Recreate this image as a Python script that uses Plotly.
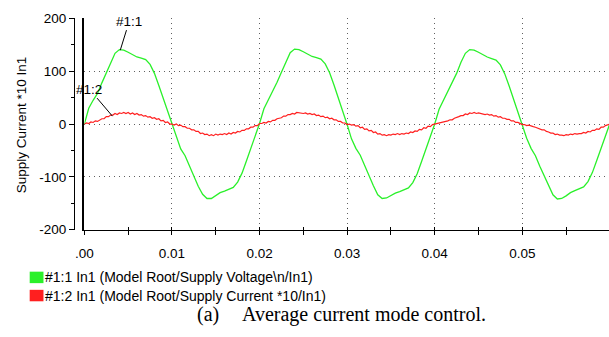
import numpy as np
import plotly.graph_objects as go

# ---------------- data ----------------
# Supply voltage (green), sampled every 0.5 ms from 0 to 0.06 s
volt_step = 0.0005
voltage = [
    0, 30, 45, 58, 78, 97, 117, 134, 141, 140, 136, 131, 127, 125, 122, 113, 96, 73, 49, 25,
    0, -27, -47, -60, -80, -99, -118, -133, -141, -141, -136, -130, -127, -124, -120, -110, -93, -70, -47, -23,
    1, 29, 46, 60, 79, 98, 118, 135, 142, 141, 137, 132, 128, 126, 123, 114, 97, 74, 50, 26,
    -1, -28, -46, -59, -79, -98, -117, -134, -141, -140, -135, -131, -128, -125, -121, -111, -94, -71, -48, -24,
    0, 28, 45, 59, 78, 96, 117, 134, 141, 140, 136, 131, 127, 124, 121, 112, 95, 72, 48, 24,
    0, -27, -46, -60, -80, -99, -118, -134, -142, -141, -136, -130, -126, -123, -119, -109, -92, -69, -46, -22,
    1,
]
# Supply current *10 (red), sampled every 0.25 ms from 0 to 0.06 s
curr_step = 0.00025
current = [
    0, 2, 1, 4, 3, 6, 5, 8, 10, 10, 14, 14, 17, 17, 20, 18, 21, 20, 22, 20,
    22, 19, 21, 18, 20, 17, 18, 15, 16, 13, 14, 11, 12, 9, 10, 6, 7, 3, 4, 0,
    0, -2, 0, -3, -2, -5, -5, -8, -8, -11, -11, -14, -14, -18, -17, -20, -19, -22, -20, -22,
    -19, -21, -19, -20, -18, -20, -17, -19, -16, -17, -14, -15, -12, -12, -9, -9, -6, -6, -3, -3,
    1, 1, 3, 2, 5, 4, 7, 7, 10, 11, 12, 15, 15, 18, 18, 20, 19, 22, 21, 21,
    20, 21, 19, 20, 18, 19, 16, 17, 14, 15, 12, 13, 10, 11, 8, 8, 5, 5, 2, 2,
    -1, 0, -2, -1, -4, -3, -7, -6, -10, -9, -13, -12, -16, -15, -19, -18, -21, -20, -22, -20,
    -21, -19, -20, -18, -20, -18, -19, -17, -18, -15, -16, -13, -14, -10, -11, -7, -8, -4, -5, -1,
    0, 1, 2, 3, 3, 5, 6, 8, 8, 11, 12, 14, 16, 16, 19, 18, 21, 20, 22, 20,
    21, 20, 20, 18, 19, 17, 18, 15, 16, 13, 14, 11, 11, 9, 9, 6, 6, 3, 3, 1,
    -1, -1, -3, -2, -4, -5, -6, -8, -9, -11, -11, -14, -15, -17, -17, -20, -19, -21, -21, -22,
    -20, -21, -19, -20, -18, -19, -18, -18, -16, -17, -14, -15, -12, -12, -9, -10, -6, -6, -3, -2,
    0,
]
t_volt = np.arange(len(voltage)) * volt_step
t_curr = np.arange(len(current)) * curr_step

x_tickvals = [0.0, 0.01, 0.02, 0.03, 0.04, 0.05]
x_ticktext = [".00", "0.01", "0.02", "0.03", "0.04", "0.05"]
x_minorvals = [0.005, 0.015, 0.025, 0.035, 0.045, 0.055]
y_tickvals = [-200, -100, 0, 100, 200]
y_ticktext = ["-200", "-100", "0", "100", "200"]

legend_labels = [
    "#1:1 In1 (Model Root/Supply Voltage\\n/In1)",
    "#1:2 In1 (Model Root/Supply Current *10/In1)",
]
series_names = ["#1:1", "#1:2"]
y_title = "Supply Current *10 In1"
caption_label = "(a)"
caption_text = "Average current mode control."

GREEN = "#2af02a"
RED = "#ff1f1f"
FONT = "Liberation Sans, Arial, sans-serif"
SERIF = "Liberation Serif, Times New Roman, serif"

W, H = 609, 337
X_RANGE = [0, 0.0599]
Y_RANGE = [-200, 200]
xdom = [76.5 / W, 1.0]
ydom = [(H - 233) / H, (H - 12) / H]

fig = go.Figure()
fig.add_trace(go.Scatter(x=t_volt, y=voltage, mode="lines",
                         line=dict(color=GREEN, width=1.3), showlegend=False))
fig.add_trace(go.Scatter(x=t_curr, y=current, mode="lines",
                         line=dict(color=RED, width=1.2), showlegend=False))
# invisible helpers so the overlay axes are drawn
fig.add_trace(go.Scatter(x=[0.03], y=[0], xaxis="x2", yaxis="y", mode="markers",
                         marker=dict(opacity=0), showlegend=False, hoverinfo="skip"))
fig.add_trace(go.Scatter(x=[0.03], y=[0], xaxis="x", yaxis="y2", mode="markers",
                         marker=dict(opacity=0), showlegend=False, hoverinfo="skip"))

grid_dash = "1px,4px"
grid_col = "#606060"

fig.update_layout(
    width=W, height=H,
    margin=dict(l=0, r=0, t=0, b=0),
    paper_bgcolor="white", plot_bgcolor="white",
    font=dict(family=FONT, size=13, color="black"),
    xaxis=dict(
        domain=xdom, range=X_RANGE, anchor="y",
        showline=True, linecolor="black", linewidth=1.3,
        ticks="outside", ticklen=4, tickwidth=1.2, tickcolor="black",
        tickvals=x_tickvals, ticktext=x_ticktext,
        tickfont=dict(size=13.5), ticklabelstandoff=7,
        minor=dict(tickvals=x_minorvals, ticks="outside", ticklen=4,
                   tickwidth=1.2, tickcolor="black", showgrid=False),
        showgrid=True, gridcolor=grid_col, griddash=grid_dash, gridwidth=1,
        zeroline=False, fixedrange=True,
    ),
    xaxis2=dict(
        domain=xdom, range=X_RANGE, anchor="y", overlaying="x",
        showline=False, ticks="inside", ticklen=3, tickwidth=1.2, tickcolor="black",
        tickvals=x_tickvals, showticklabels=False,
        minor=dict(tickvals=x_minorvals, ticks="inside", ticklen=3,
                   tickwidth=1.2, tickcolor="black", showgrid=False),
        showgrid=False, zeroline=False,
    ),
    yaxis=dict(
        domain=ydom, range=Y_RANGE, anchor="free", position=66 / W,
        showline=True, linecolor="black", linewidth=1.3,
        ticks="outside", ticklen=5, tickwidth=1.2, tickcolor="black",
        tickvals=y_tickvals, ticktext=y_ticktext,
        tickfont=dict(size=13.5),
        minor=dict(dtick=50, ticks="outside", ticklen=3, tickwidth=1.2,
                   tickcolor="black", showgrid=False),
        showgrid=True, gridcolor=grid_col, griddash=grid_dash, gridwidth=1,
        zeroline=False,
    ),
    yaxis2=dict(
        domain=ydom, range=Y_RANGE, anchor="x", overlaying="y", side="left",
        showline=True, linecolor="black", linewidth=1.5,
        ticks="", showticklabels=False, showgrid=False, zeroline=False,
    ),
)

ann = []
# y-axis title
ann.append(dict(x=13 / W, y=(H - 123) / H, xref="paper", yref="paper",
                text=y_title, textangle=-90, showarrow=False,
                font=dict(size=13.5), xanchor="center", yanchor="middle"))
# series callouts
ann.append(dict(x=0.0041, y=140, xref="x", yref="y", text=series_names[0],
                showarrow=True, arrowhead=0, arrowwidth=1, arrowcolor="black",
                ax=9, ay=-29, font=dict(size=13.5)))
ann.append(dict(x=0.0032, y=15, xref="x", yref="y", text=series_names[1],
                showarrow=True, arrowhead=0, arrowwidth=1, arrowcolor="black",
                ax=-23, ay=-27, font=dict(size=13.5)))
# legend text
for i, lab in enumerate(legend_labels):
    yc = [283, 302][i]
    ann.append(dict(x=35 / W, y=(H - yc) / H, xref="paper", yref="paper",
                    text=lab, showarrow=False, xanchor="left", yanchor="middle",
                    font=dict(family=FONT, size=14)))
# caption
ann.append(dict(x=189 / W, y=(H - 322) / H, xref="paper", yref="paper",
                text=caption_label, showarrow=False, xanchor="left", yanchor="middle",
                font=dict(family=SERIF, size=20)))
ann.append(dict(x=234 / W, y=(H - 322) / H, xref="paper", yref="paper",
                text=caption_text, showarrow=False, xanchor="left", yanchor="middle",
                font=dict(family=SERIF, size=20)))
fig.update_layout(annotations=ann)

# legend swatches
shapes = []
for i, col in enumerate([GREEN, RED]):
    y0, y1 = [(277, 289), (296, 308)][i]
    shapes.append(dict(type="rect", xref="paper", yref="paper",
                       x0=21 / W, x1=35 / W, y0=(H - y1) / H, y1=(H - y0) / H,
                       fillcolor=col, line=dict(width=0)))
fig.update_layout(shapes=shapes)

fig.write_html("out.html")
